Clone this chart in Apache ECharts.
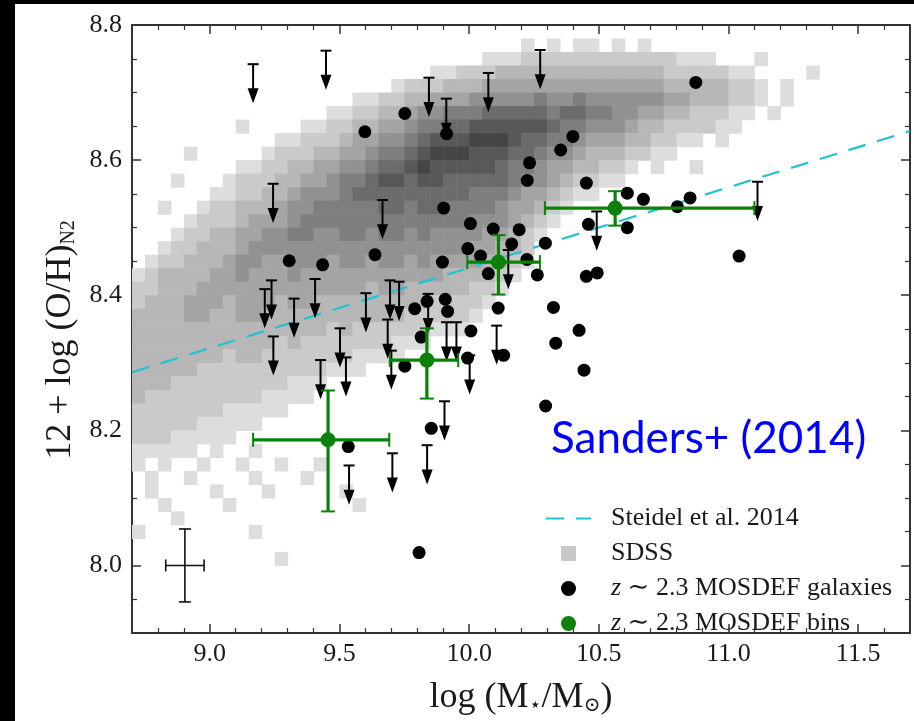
<!DOCTYPE html>
<html>
<head>
<meta charset="utf-8">
<script src="https://cdn.jsdelivr.net/npm/echarts@6/dist/echarts.min.js"></script>
<style>
html,body{margin:0;padding:0;background:#000;width:914px;height:721px;overflow:hidden}
#chart{position:absolute;left:15px;top:4px;width:899px;height:717px;background:#fff}
</style>
</head>
<body>
<div id="chart"></div>
<script>
// ---------------- data ----------------
const xRange = [8.7, 11.7];
const yRange = [7.9, 8.8];

// z~2.3 MOSDEF galaxies (log M*, 12+log(O/H))
const galaxies = [
  [9.598,8.642],[9.752,8.669],[9.913,8.639],[9.902,8.529],[9.306,8.451],[9.435,8.445],
  [9.637,8.460],[9.897,8.449],[9.790,8.380],[9.838,8.391],[9.908,8.394],[9.917,8.376],
  [9.815,8.338],[10.874,8.715],[10.400,8.635],[10.353,8.615],[10.233,8.596],[10.224,8.570],
  [10.452,8.566],[10.610,8.551],[10.672,8.542],[10.803,8.531],[10.852,8.544],[10.610,8.500],
  [10.460,8.505],[10.005,8.506],[10.093,8.498],[10.193,8.497],[10.164,8.476],[9.995,8.469],
  [10.294,8.477],[10.044,8.458],[10.223,8.453],[10.074,8.432],[10.263,8.430],[10.452,8.428],
  [10.494,8.433],[11.041,8.458],[10.112,8.381],[10.325,8.382],[10.007,8.347],[10.424,8.348],
  [10.334,8.329],[10.133,8.311],[9.994,8.307],[9.752,8.295],[10.443,8.289],[10.295,8.236],
  [9.854,8.203],[9.534,8.176],[9.807,8.019]
];

// upper limits (cap position)
const upperLimits = [
  [9.167,8.742],[9.448,8.762],[9.845,8.722],[9.912,8.691],[10.074,8.729],[10.274,8.763],
  [9.244,8.565],[9.666,8.541],[9.238,8.422],[9.212,8.409],[9.325,8.395],[9.406,8.424],
  [9.245,8.339],[9.502,8.351],[9.427,8.304],[9.525,8.308],[9.602,8.403],[9.695,8.422],
  [9.730,8.420],[9.686,8.364],[9.700,8.318],[9.842,8.402],[9.913,8.360],[9.951,8.360],
  [10.002,8.311],[9.905,8.243],[10.106,8.355],[10.151,8.467],[10.492,8.524],[11.112,8.568],
  [9.537,8.148],[9.704,8.166],[9.838,8.178]
];
const limitLength = 0.058; // dex

// z~2.3 MOSDEF bins
const bins    = [[9.456,8.186],[9.837,8.304],[10.113,8.449],[10.563,8.529]];
const binXErr = [[9.167,9.692],[9.694,9.958],[9.993,10.273],[10.292,11.100]];
const binYErr = [[8.080,8.259],[8.247,8.351],[8.401,8.489],[8.503,8.554]];

// Steidel et al. 2014 relation (end points at the plot edges)
const steidel = [[8.7,8.286],[11.7,8.643]];

// typical error bar: [x, y, dx, dy]
const typicalError = [[8.904, 8.000, 0.074, 0.054]];

// SDSS 2D histogram: bin size and rows (top row = 8.78-8.80), segments [colStart, colEnd, level]
const sdssX0 = 8.70, sdssTop = 8.80, sdssDX = 0.05, sdssDY = 0.02;
const sdssRows = [
  [],
  [[30,30,1],[32,32,1],[34,35,1],[37,37,1],[39,39,1]],
  [[27,29,1],[30,41,2],[42,44,1],[48,48,1]],
  [[23,24,1],[25,27,2],[28,40,3],[41,45,2],[46,47,1],[52,52,1]],
  [[20,20,1],[21,23,2],[24,26,3],[27,40,4],[41,45,3],[46,47,2],[48,48,1],[50,50,1]],
  [[17,18,1],[19,20,2],[21,22,3],[23,25,4],[26,30,5],[31,31,6],[32,33,5],[34,34,6],[35,40,5],[41,42,4],[43,45,3],[46,47,2],[48,48,1],[50,50,1]],
  [[15,16,1],[17,18,2],[19,20,3],[21,21,4],[22,23,5],[24,26,6],[27,31,7],[32,32,6],[33,34,7],[35,36,6],[37,38,5],[39,40,4],[41,42,3],[43,45,2],[46,47,1],[49,49,1]],
  [[8,8,1],[13,14,1],[15,16,2],[17,18,3],[19,20,4],[21,21,5],[22,23,6],[24,25,7],[26,31,8],[32,32,7],[33,34,6],[35,37,5],[38,38,4],[39,40,3],[41,44,2],[45,46,1]],
  [[11,12,1],[13,15,2],[16,16,3],[17,18,4],[19,20,5],[21,21,6],[22,22,7],[23,25,8],[26,28,9],[29,29,8],[30,31,7],[32,33,6],[34,34,5],[35,37,4],[38,39,3],[40,41,2],[42,43,1],[45,45,1]],
  [[4,4,1],[10,10,1],[11,13,2],[14,15,3],[16,17,4],[18,18,5],[19,20,6],[21,21,7],[22,22,8],[23,25,9],[26,28,8],[29,30,7],[31,31,6],[32,33,5],[34,34,4],[35,37,3],[38,39,2],[40,41,1]],
  [[8,9,1],[10,11,2],[12,13,3],[14,15,4],[16,17,5],[18,18,6],[19,20,7],[21,21,8],[22,22,9],[23,27,8],[28,28,7],[29,30,6],[31,31,5],[32,33,4],[34,35,3],[36,37,2],[38,38,1],[40,40,1],[43,43,1]],
  [[3,3,1],[7,7,1],[8,10,2],[11,12,3],[13,14,4],[15,15,5],[16,17,6],[18,18,7],[19,20,8],[21,21,7],[22,23,8],[24,28,7],[29,29,6],[30,31,5],[32,32,4],[33,33,3],[34,35,2],[36,37,1]],
  [[6,7,1],[8,9,2],[10,11,3],[12,12,4],[13,15,5],[16,16,6],[17,25,7],[26,28,6],[29,29,5],[30,31,4],[32,32,3],[33,33,2],[34,35,1]],
  [[2,2,1],[5,5,1],[6,7,2],[8,10,3],[11,11,4],[12,13,5],[14,18,6],[19,20,7],[21,21,6],[22,23,7],[24,27,6],[28,28,5],[29,30,4],[31,31,3],[32,32,2],[33,33,1]],
  [[4,4,1],[5,7,2],[8,8,3],[9,11,4],[12,12,5],[13,25,6],[26,28,5],[29,29,4],[30,30,3],[31,31,2],[32,32,1]],
  [[3,3,1],[4,5,2],[6,7,3],[8,9,4],[10,11,5],[12,13,6],[14,15,5],[16,17,6],[18,18,5],[19,20,6],[21,21,5],[22,22,6],[23,26,5],[27,28,4],[29,29,3],[30,30,2],[31,31,1]],
  [[2,2,1],[3,4,2],[5,7,3],[8,8,4],[9,25,5],[26,27,4],[28,29,3],[30,30,2]],
  [[1,1,1],[2,3,2],[4,6,3],[7,7,4],[8,9,5],[10,11,4],[12,14,5],[15,15,4],[16,17,5],[18,18,4],[19,20,5],[21,21,4],[22,22,5],[23,26,4],[27,28,3],[29,29,2],[30,30,1]],
  [[0,0,1],[1,1,2],[2,5,3],[6,7,4],[8,8,5],[9,11,4],[12,12,5],[13,23,4],[24,27,3],[28,28,2],[29,29,1]],
  [[0,1,2],[2,4,3],[5,17,4],[18,18,3],[19,20,4],[21,25,3],[26,27,2],[28,28,1]],
  [[0,0,2],[1,3,3],[4,6,4],[7,7,3],[8,10,4],[11,11,3],[12,13,4],[14,22,3],[23,26,2],[27,27,1]],
  [[0,3,3],[4,5,4],[6,7,3],[8,9,4],[10,20,3],[21,25,2],[26,26,1]],
  [[0,14,3],[15,15,2],[16,16,3],[17,22,2],[23,25,1]],
  [[0,10,3],[11,11,2],[12,12,3],[13,19,2],[20,22,1]],
  [[0,6,3],[7,7,2],[8,9,3],[10,16,2],[17,20,1]],
  [[0,4,3],[5,14,2],[15,17,1]],
  [[0,2,3],[3,11,2],[12,14,1]],
  [[0,0,3],[1,9,2],[10,13,1]],
  [[0,6,2],[7,11,1]],
  [[0,4,2],[5,9,1]],
  [[0,2,2],[3,7,1]],
  [[0,4,1],[6,6,1],[9,9,1]],
  [[0,0,1],[2,2,1],[5,5,1],[8,8,1],[11,11,1],[14,14,1]],
  [[1,1,1],[4,4,1],[9,9,1],[13,13,1]],
  [[1,1,1],[6,6,1],[10,10,1],[16,16,1]],
  [[2,2,1],[7,7,1],[17,17,1]],
  [[3,3,1]],
  [[0,0,1],[9,9,1]],
  [],
  [[11,11,1]]
];

// ---------------- build ----------------
const sdssCells = [];
sdssRows.forEach(function (segs, r) {
  segs.forEach(function (s) {
    for (let c = s[0]; c <= s[1]; c++) {
      sdssCells.push([+(sdssX0 + sdssDX * c).toFixed(3), +(sdssTop - sdssDY * (r + 1)).toFixed(3), s[2]]);
    }
  });
});
const binData = bins.map(function (b, i) {
  return [b[0], b[1], binXErr[i][0], binXErr[i][1], binYErr[i][0], binYErr[i][1]];
});

const SERIF = '"Liberation Serif","DejaVu Serif",serif';
const INK = '#1a1a1a';
const GREEN = '#0a820a';
const GAL = 'z ∼ 2.3 MOSDEF galaxies';
const BIN = 'z ∼ 2.3 MOSDEF bins';
const STE = 'Steidel et al. 2014';

function axisCommon(showLabel, minorSplit) {
  return {
    type: 'value',
    axisLine: { show: true, onZero: false, lineStyle: { color: '#333', width: 2 } },
    axisTick: { show: true, inside: true, length: 9, lineStyle: { color: '#333', width: 1.5 } },
    minorTick: { show: true, splitNumber: minorSplit, length: 5, lineStyle: { color: '#333', width: 1.2 } },
    splitLine: { show: false },
    minorSplitLine: { show: false },
    axisLabel: {
      show: showLabel, showMinLabel: false, showMaxLabel: true,
      formatter: function (v) { return v.toFixed(1); },
      fontFamily: SERIF, fontSize: 26, color: INK
    }
  };
}

const xBottom = Object.assign(axisCommon(true, 5), {
  min: xRange[0], max: xRange[1], position: 'bottom',
  name: 'log (M{s|⋆}/M{s|⊙})', nameLocation: 'middle', nameGap: 47,
  nameTextStyle: { fontFamily: SERIF, fontSize: 36, color: INK,
    rich: { s: { fontFamily: SERIF, fontSize: 20, color: INK, padding: [16, 0, 0, 0] } } }
});
xBottom.axisLabel.showMaxLabel = false;
xBottom.axisLabel.margin = 8;
const xTop = Object.assign(axisCommon(false, 5), { min: xRange[0], max: xRange[1], position: 'top' });
const yLeft = Object.assign(axisCommon(true, 4), {
  min: yRange[0], max: yRange[1], position: 'left',
  name: '12 + log (O/H){s|N2}', nameLocation: 'middle', nameRotate: 90, nameGap: 50,
  nameTextStyle: { fontFamily: SERIF, fontSize: 36, color: INK, padding: [0, 22, 0, 0],
    rich: { s: { fontFamily: SERIF, fontSize: 20, color: INK, padding: [16, 0, 0, 0] } } }
});
yLeft.axisLabel.margin = 10;
const yRight = Object.assign(axisCommon(false, 4), { min: yRange[0], max: yRange[1], position: 'right' });

const chart = echarts.init(document.getElementById('chart'), null, { renderer: 'canvas' });
chart.setOption({
  animation: false,
  backgroundColor: '#fff',
  grid: { left: 117, top: 21, width: 778, height: 613, containLabel: false },
  xAxis: [xBottom, xTop],
  yAxis: [yLeft, yRight],
  legend: {
    orient: 'vertical', left: 530, top: 500, padding: 0,
    itemWidth: 45, itemHeight: 15, itemGap: 6, selectedMode: false,
    data: [
      { name: STE, itemStyle: { opacity: 0 } },
      { name: 'SDSS', icon: 'path://M0,0H10V10H0Z', itemStyle: { color: '#c8c8c8' } },
      { name: GAL, icon: 'circle' },
      { name: BIN, icon: 'circle' }
    ],
    formatter: function (name) {
      if (name.indexOf('z ') === 0) return '{p| }{i|z}' + name.slice(1);
      return '{p| }' + name;
    },
    textStyle: {
      fontFamily: SERIF, fontSize: 26, color: INK, lineHeight: 29,
      rich: {
        p: { width: 15, fontSize: 26, lineHeight: 29 },
        i: { fontFamily: SERIF, fontStyle: 'italic', fontSize: 26, color: INK, lineHeight: 29 }
      }
    }
  },
  graphic: [
    { type: 'text', left: 536, top: 413, z: 100,
      style: { text: 'Sanders+ (2014)', fontFamily: 'Lato', fontSize: 44, fill: '#0000ff' } }
  ],
  series: [
    {
      name: 'SDSS', type: 'custom', z: 1, silent: true,
      data: sdssCells,
      encode: { x: 0, y: 1 },
      renderItem: function (params, api) {
        const x0 = api.value(0), y0 = api.value(1), lv = api.value(2);
        const p1 = api.coord([x0, y0 + sdssDY]);
        const p2 = api.coord([x0 + sdssDX, y0]);
        const g = Math.round(240 - 19 * lv);
        return { type: 'rect',
          shape: { x: p1[0], y: p1[1], width: p2[0] - p1[0] + 0.6, height: p2[1] - p1[1] + 0.6 },
          style: { fill: 'rgb(' + g + ',' + g + ',' + g + ')' } };
      }
    },
    {
      name: STE, type: 'line', z: 2, silent: true, symbol: 'none',
      data: steidel,
      lineStyle: { color: '#22c2cf', width: 2.2, type: [18, 12] },
      itemStyle: { color: '#22c2cf' }
    },
    {
      name: 'upper limits', type: 'custom', z: 3, silent: true,
      data: upperLimits, encode: { x: 0, y: 1 },
      renderItem: function (params, api) {
        const x = api.value(0), y = api.value(1);
        const top = api.coord([x, y]);
        const tip = api.coord([x, y - limitLength]);
        const hh = 15, hw = 5.5, cw = 5.5;
        return { type: 'group', children: [
          { type: 'line', shape: { x1: top[0] - cw, y1: top[1], x2: top[0] + cw, y2: top[1] }, style: { stroke: '#000', lineWidth: 2 } },
          { type: 'line', shape: { x1: top[0], y1: top[1], x2: tip[0], y2: tip[1] - hh + 2 }, style: { stroke: '#000', lineWidth: 2 } },
          { type: 'polygon', shape: { points: [[tip[0] - hw, tip[1] - hh], [tip[0] + hw, tip[1] - hh], [tip[0], tip[1]]] }, style: { fill: '#000' } }
        ] };
      }
    },
    {
      name: GAL, type: 'scatter', z: 4, silent: true,
      data: galaxies, symbol: 'circle', symbolSize: 13,
      itemStyle: { color: '#000', opacity: 1 }
    },
    {
      name: 'typical error', type: 'custom', z: 4, silent: true,
      data: typicalError, encode: { x: 0, y: 1 },
      renderItem: function (params, api) {
        const x = api.value(0), y = api.value(1), dx = api.value(2), dy = api.value(3);
        const l = api.coord([x - dx, y]), r = api.coord([x + dx, y]);
        const t = api.coord([x, y + dy]), b = api.coord([x, y - dy]);
        const st = { stroke: '#111', lineWidth: 1.6 }, c = 6;
        return { type: 'group', children: [
          { type: 'line', shape: { x1: l[0], y1: l[1], x2: r[0], y2: r[1] }, style: st },
          { type: 'line', shape: { x1: t[0], y1: t[1], x2: b[0], y2: b[1] }, style: st },
          { type: 'line', shape: { x1: l[0], y1: l[1] - c, x2: l[0], y2: l[1] + c }, style: st },
          { type: 'line', shape: { x1: r[0], y1: r[1] - c, x2: r[0], y2: r[1] + c }, style: st },
          { type: 'line', shape: { x1: t[0] - c, y1: t[1], x2: t[0] + c, y2: t[1] }, style: st },
          { type: 'line', shape: { x1: b[0] - c, y1: b[1], x2: b[0] + c, y2: b[1] }, style: st }
        ] };
      }
    },
    {
      name: 'bin errors', type: 'custom', z: 5, silent: true,
      data: binData, encode: { x: 0, y: 1 },
      renderItem: function (params, api) {
        const x = api.value(0), y = api.value(1);
        const l = api.coord([api.value(2), y]), r = api.coord([api.value(3), y]);
        const b = api.coord([x, api.value(4)]), t = api.coord([x, api.value(5)]);
        const st = { stroke: GREEN, lineWidth: 3.2 }, sc = { stroke: GREEN, lineWidth: 2 }, c = 7;
        return { type: 'group', children: [
          { type: 'line', shape: { x1: l[0], y1: l[1], x2: r[0], y2: r[1] }, style: st },
          { type: 'line', shape: { x1: t[0], y1: t[1], x2: b[0], y2: b[1] }, style: st },
          { type: 'line', shape: { x1: l[0], y1: l[1] - c, x2: l[0], y2: l[1] + c }, style: sc },
          { type: 'line', shape: { x1: r[0], y1: r[1] - c, x2: r[0], y2: r[1] + c }, style: sc },
          { type: 'line', shape: { x1: t[0] - c, y1: t[1], x2: t[0] + c, y2: t[1] }, style: sc },
          { type: 'line', shape: { x1: b[0] - c, y1: b[1], x2: b[0] + c, y2: b[1] }, style: sc }
        ] };
      }
    },
    {
      name: BIN, type: 'scatter', z: 6, silent: true,
      data: bins, symbol: 'circle', symbolSize: 15,
      itemStyle: { color: GREEN, opacity: 1 }
    }
  ]
});
</script>
</body>
</html>
